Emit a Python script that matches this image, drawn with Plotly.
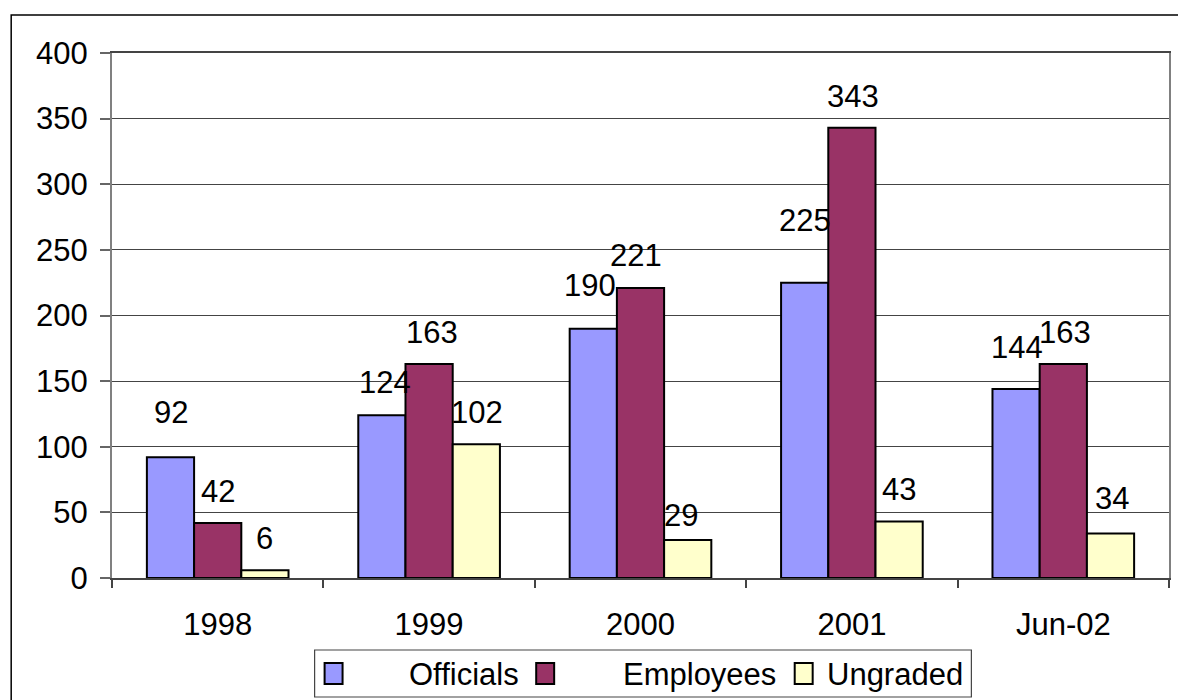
import plotly.graph_objects as go

# Headcount by grade
categories = ["1998", "1999", "2000", "2001", "Jun-02"]
series_names = ["Officials", "Employees", "Ungraded"]
officials = [92, 124, 190, 225, 144]
employees = [42, 163, 221, 343, 163]
ungraded = [6, 102, 29, 43, 34]
y_ticks = [0, 50, 100, 150, 200, 250, 300, 350, 400]

series_values = [officials, employees, ungraded]
colors = ["#9999FF", "#993366", "#FFFFCC"]

# label placement: horizontal offset of each bar within its group (px),
# and per-label nudges so labels don't collide
bar_offsets = [-47, 0, 47]
label_dx = [
    [0, 3, -4, 0, 1],
    [0, 3, -5, 1, 2],
    [0, 1, -7, 0, 2],
]
label_dy = [
    [45, 33, 43, 62, 42],
    [31, 32, 32, 31, 32],
    [32, 32, 24, 32, 35],
]

FONT = "Liberation Sans, Arial, Helvetica, sans-serif"
FS = 31

fig = go.Figure()
for name, vals, col in zip(series_names, series_values, colors):
    fig.add_trace(go.Bar(
        x=categories, y=vals, name=name,
        marker=dict(color=col, line=dict(color="#000000", width=2)),
        showlegend=False,
    ))

annotations = []
for s, vals in enumerate(series_values):
    for i, v in enumerate(vals):
        # category axes take the category index for annotation positions
        annotations.append(dict(
            x=i, y=v, xref="x", yref="y",
            text=str(v), showarrow=False,
            xshift=bar_offsets[s] + label_dx[s][i], yshift=label_dy[s][i],
            xanchor="center", yanchor="middle",
            font=dict(family=FONT, size=FS, color="#000000"),
        ))

# plot-area geometry in pixels, used to place the outer frame and legend
L, R, T, B = 112, 7, 53, 122
W, H = 1178, 700
pw, ph = W - L - R, H - T - B


def px_x(p):
    return (p - L) / pw


def px_y(p):
    return (H - B - p) / ph


shapes = [
    # chart frame
    dict(type="rect", xref="paper", yref="paper",
         x0=px_x(11), x1=px_x(1190), y0=px_y(712), y1=px_y(15),
         line=dict(color="#000000", width=1.5), fillcolor="rgba(0,0,0,0)", layer="below"),
    # legend box
    dict(type="rect", xref="paper", yref="paper",
         x0=px_x(315), x1=px_x(973), y0=px_y(697), y1=px_y(650),
         line=dict(color="#444444", width=1.2), fillcolor="#FFFFFF"),
]

swatch_x = [325, 537, 796]
text_x = [408, 622, 826]
for s, name in enumerate(series_names):
    shapes.append(dict(
        type="rect", xref="paper", yref="paper",
        x0=px_x(swatch_x[s]), x1=px_x(swatch_x[s] + 18),
        y0=px_y(684), y1=px_y(663),
        line=dict(color="#000000", width=2), fillcolor=colors[s],
    ))
    annotations.append(dict(
        x=px_x(text_x[s]), y=px_y(674), xref="paper", yref="paper",
        text=name, showarrow=False, xanchor="left", yanchor="middle",
        font=dict(family=FONT, size=FS, color="#000000"),
    ))

fig.update_layout(
    width=W, height=H,
    margin=dict(l=L, r=R, t=T, b=B, pad=0),
    paper_bgcolor="#FFFFFF", plot_bgcolor="#FFFFFF",
    barmode="group", bargap=0.33, bargroupgap=0,
    font=dict(family=FONT, size=FS, color="#000000"),
    annotations=annotations, shapes=shapes,
    showlegend=False,
)
fig.update_xaxes(
    type="category", tickson="boundaries",
    range=[-0.5, len(categories) - 0.5],
    ticks="outside", ticklen=8, tickwidth=1.5, tickcolor="#444444",
    showline=True, linecolor="#444444", linewidth=2, mirror=True,
    showgrid=False, ticklabelstandoff=18, tickangle=0,
    tickfont=dict(family=FONT, size=FS, color="#000000"),
)
fig.update_yaxes(
    range=[0, 400], tickvals=y_ticks, ticktext=[str(t) for t in y_ticks],
    ticks="outside", ticklen=10, tickwidth=1.5, tickcolor="#666666",
    showline=True, linecolor="#808080", linewidth=2, mirror=True,
    showgrid=True, gridcolor="#444444", gridwidth=1, zeroline=False,
    ticklabelstandoff=6,
    tickfont=dict(family=FONT, size=FS, color="#000000"),
)

fig.write_html("out.html")
